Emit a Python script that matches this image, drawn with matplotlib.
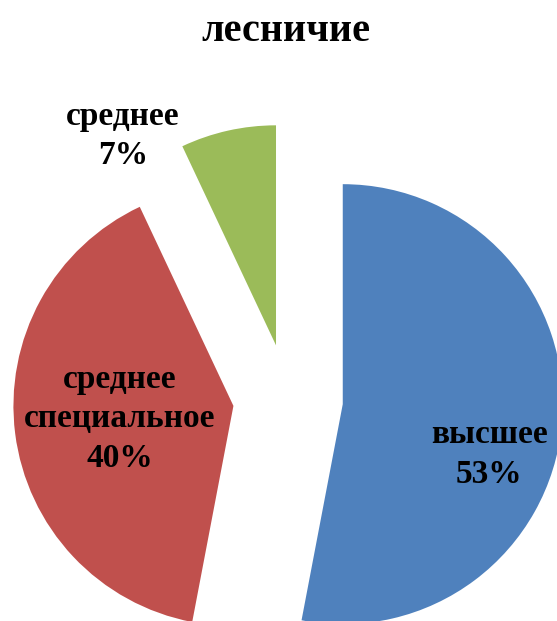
"""Круговая диаграмма: образование лесничих."""

import matplotlib
matplotlib.use("Agg")
import matplotlib.pyplot as plt

title = "лесничие"
categories = ["высшее", "среднее\nспециальное", "среднее"]
shares = [53, 40, 7]
colors = ["#4F81BD", "#C0504D", "#9BBB59"]

plt.rcParams["font.family"] = ["Liberation Serif", "DejaVu Serif"]

fig = plt.figure(figsize=(5.57, 6.21), dpi=100)
ax = fig.add_axes([0, 0, 1, 1])

wedges, _ = ax.pie(
    shares,
    colors=colors,
    startangle=90,
    counterclock=False,
    explode=[0.25] * len(shares),
    radius=1.0,
    wedgeprops=dict(linewidth=0),
)

# pie centre sits at (288, 399) px, radius 220 px
ax.set_xlim(-288 / 220, (557 - 288) / 220)
ax.set_ylim((399 - 621) / 220, 399 / 220)
ax.set_aspect("auto")
ax.axis("off")

label_pos = [(0.914, -0.253), (-0.764, -0.09), (-0.75, 1.195)]
for name, val, (x, y) in zip(categories, shares, label_pos):
    ax.text(x, y, f"{name}\n{val}%", ha="center", va="center",
            fontsize=24, fontweight="bold", linespacing=1.35)

fig.text(286 / 557, 1 - 41 / 621, title, ha="center", va="baseline",
         fontsize=29, fontweight="bold")

fig.savefig("out.png", dpi=100)
